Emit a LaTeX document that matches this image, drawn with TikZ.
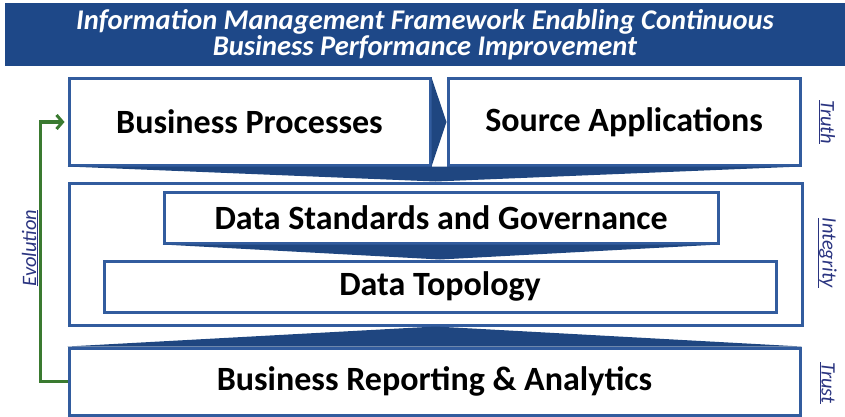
\documentclass[tikz,border=0pt]{standalone}
\usepackage{fontspec}
\setmainfont{Carlito}
\usetikzlibrary{arrows.meta}

\definecolor{bannerblue}{RGB}{30,72,136}
\definecolor{chevblue}{RGB}{31,70,128}
\definecolor{edgeblue}{RGB}{50,92,158}
\definecolor{evogreen}{RGB}{58,122,48}
\definecolor{tagblue}{RGB}{42,52,128}

\begin{document}
\begin{tikzpicture}[x=1pt,y=-1pt]
    \tikzstyle{layer} = [rectangle, draw=edgeblue, line width=3pt, fill=white, inner sep=0pt, font=\fontsize{34}{36}\selectfont\bfseries]
    \tikzstyle{chevron} = [fill=chevblue]
    \tikzstyle{tag} = [text=tagblue, inner sep=0pt, font=\fontsize{20.5}{22}\selectfont\itshape]
    \tikzstyle{evo} = [draw=evogreen, line width=3pt, -{Straight Barb[length=6pt,width=14pt,line width=3pt]}, shorten >=3pt]
    \useasboundingbox (0,0) rectangle (845,417);

    \node (banner) [fill=bannerblue, minimum width=840pt, minimum height=63pt, inner sep=0pt, text=white, align=center, font=\fontsize{28.5}{23}\selectfont\bfseries\itshape] at (425,34.5) {Information Management Framework Enabling Continuous\\Business Performance Improvement};

    \node (bp) [layer, minimum width=361pt, minimum height=86pt] at (249.5,122) {Business Processes};
    \node (sa) [layer, minimum width=352pt, minimum height=86pt] at (624,122) {Source Applications};
    \node (mid) [layer, minimum width=733pt, minimum height=142pt] at (435.5,254) {};
    \node (dsg) [layer, minimum width=554pt, minimum height=51pt] at (441,217.5) {Data Standards and Governance};
    \node (topo) [layer, minimum width=672pt, minimum height=51pt] at (440,286.5) {Data Topology};
    \node (brep) [layer, minimum width=731pt, minimum height=67pt] at (434.5,381.5) {Business Reporting \& Analytics};

    % chevrons between the layers
    \fill[chevron] (bp.north east) -- (sa.west) -- (bp.south east) -- cycle;
    \fill[chevron] (bp.south west) -- (sa.south east) -- (mid.north) -- cycle;
    \fill[chevron] (dsg.south west) -- (dsg.south east) -- (topo.north) -- cycle;
    \fill[chevron] (brep.north west) -- (brep.north east) -- (mid.south) -- cycle;

    % feedback loop
    \draw[evo] (brep.west) -| ([xshift=-27pt]bp.west) -- (bp.west);
    \node (evolution) [tag, rotate=90] at (30,248) {\underline{Evolution}};

    \node (truth) [tag, rotate=-90] at (827,122) {\underline{Truth}};
    \node (integrity) [tag, rotate=-90] at (827,253) {\underline{Integrity}};
    \node (trust) [tag, rotate=-90] at (827,383) {\underline{Trust}};
\end{tikzpicture}
\end{document}
